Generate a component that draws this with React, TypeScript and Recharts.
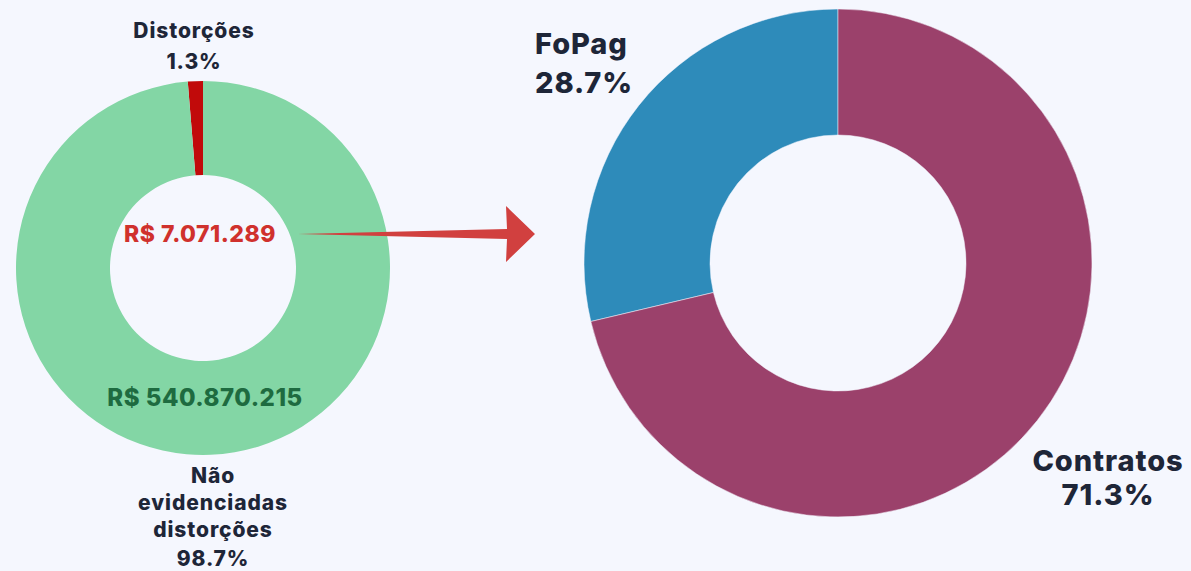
import React from 'react';
import { PieChart, Pie, Cell } from 'recharts';

const leftCategories = ['Distorções', 'Não evidenciadas distorções'];
const leftPercents = [1.3, 98.7];
const leftAmounts = ['R$ 7.071.289', 'R$ 540.870.215'];
const leftColors = ['#C10A0A', '#83D6A5'];

const rightCategories = ['FoPag', 'Contratos'];
const rightPercents = [28.7, 71.3];
const rightColors = ['#2E8BBA', '#9B416B'];

const leftData = leftCategories.map((name, i) => ({ name, value: leftPercents[i] }));
const rightData = rightCategories.map((name, i) => ({ name, value: rightPercents[i] }));

const FONT = 'Inter, "Open Sans", sans-serif';
const DARK = '#1E2638';

const Overlay = () => (
  <svg
    width={1191}
    height={571}
    style={{ position: 'absolute', left: 0, top: 0, pointerEvents: 'none' }}
  >
    <g fontFamily={FONT} fontWeight={800}>
      <path d="M 298 234 L 507 229 L 506 206 L 535 234 L 506 262 L 507 239 Z" fill="#D1403F" />
      <text x={194} y={38} textAnchor="middle" fontSize={21} letterSpacing={0.9} fill={DARK}>Distorções</text>
      <text x={194} y={69} textAnchor="middle" fontSize={21} letterSpacing={0.9} fill={DARK}>1.3%</text>
      <text x={200} y={242} textAnchor="middle" fontSize={23} letterSpacing={0.5} fill="#D0312D">{leftAmounts[0]}</text>
      <text x={205} y={406} textAnchor="middle" fontSize={24} letterSpacing={0.5} fill="#1E6B40">{leftAmounts[1]}</text>
      <text x={213} y={483} textAnchor="middle" fontSize={21} letterSpacing={0.9} fill={DARK}>Não</text>
      <text x={213} y={510} textAnchor="middle" fontSize={21} letterSpacing={0.9} fill={DARK}>evidenciadas</text>
      <text x={213} y={537} textAnchor="middle" fontSize={21} letterSpacing={0.9} fill={DARK}>distorções</text>
      <text x={213} y={566} textAnchor="middle" fontSize={21} letterSpacing={0.9} fill={DARK}>98.7%</text>
      <text x={535} y={54} textAnchor="start" fontSize={29} letterSpacing={0.9} fill={DARK}>FoPag</text>
      <text x={535} y={93} textAnchor="start" fontSize={29} letterSpacing={0.9} fill={DARK}>28.7%</text>
      <text x={1108} y={471} textAnchor="middle" fontSize={29} letterSpacing={0.9} fill={DARK}>Contratos</text>
      <text x={1108} y={505} textAnchor="middle" fontSize={29} letterSpacing={0.9} fill={DARK}>71.3%</text>
    </g>
  </svg>
);

export default function App() {
  return (
    <div style={{ position: 'fixed', left: 0, top: 0, width: 1191, height: 571, background: '#F5F7FE' }}>
      <PieChart width={1191} height={571} margin={{ top: 0, right: 0, bottom: 0, left: 0 }}>
        <Pie
          data={leftData}
          dataKey="value"
          cx={203}
          cy={268}
          innerRadius={93}
          outerRadius={187}
          startAngle={90}
          endAngle={450}
          stroke="none"
          isAnimationActive={false}
        >
          {leftData.map((d, i) => (
            <Cell key={d.name} fill={leftColors[i]} />
          ))}
        </Pie>
        <Pie
          data={rightData}
          dataKey="value"
          cx={838}
          cy={263}
          innerRadius={128}
          outerRadius={254}
          startAngle={90}
          endAngle={450}
          stroke="#F5F7FE"
          strokeWidth={0.5}
          isAnimationActive={false}
        >
          {rightData.map((d, i) => (
            <Cell key={d.name} fill={rightColors[i]} />
          ))}
        </Pie>
      </PieChart>
      <Overlay />
    </div>
  );
}
